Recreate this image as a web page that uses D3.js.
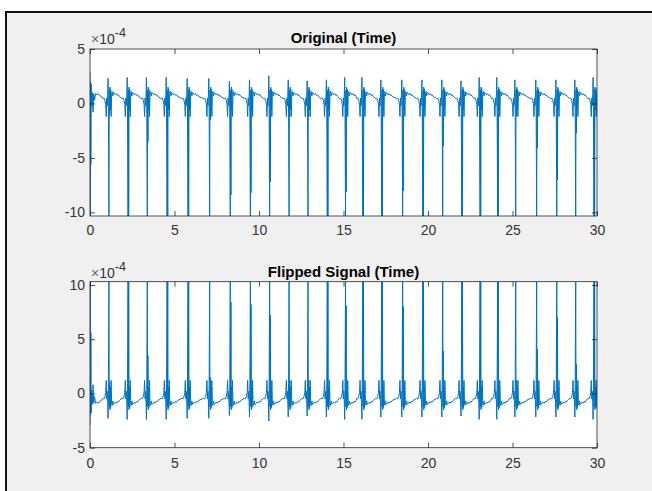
<!DOCTYPE html>
<html>
<head>
<meta charset="utf-8">
<script src="https://cdn.jsdelivr.net/npm/d3@7"></script>
<style>
  html, body { margin: 0; padding: 0; background: #ffffff; }
  svg { display: block; }
  text { font-family: "Liberation Sans", Arial, Helvetica, sans-serif; }
</style>
</head>
<body>
<script>
// ---------------- data (values in units of 1e-4) ----------------
const xTicks = [0, 5, 10, 15, 20, 25, 30];
const yTicksOriginal = [-10, -5, 0, 5];
const yTicksFlipped = [-5, 0, 5, 10];
const titles = ["Original (Time)", "Flipped Signal (Time)"];
const exponentLabel = "-4";

// time of each heartbeat spike (s)
const beatTimes = [1.12, 2.25, 3.39, 4.56, 5.80, 7.08, 8.30, 9.49, 10.63, 11.78, 12.90, 14.04, 15.12,
                   16.14, 17.26, 18.50, 19.69, 20.87, 22.00, 23.08, 24.12, 25.19, 26.43, 27.62, 28.74, 29.82];
// positive peak just before each spike (x1e-4)
const beatPeaks = [2.30, 2.39, 2.39, 2.39, 2.30, 2.30, 2.02, 2.17, 2.54, 2.17, 2.08, 2.17, 2.39,
                   2.39, 2.17, 2.17, 2.17, 2.17, 2.08, 2.39, 2.39, 2.17, 2.17, 2.17, 2.17, 2.39];
// main negative spike depth of each beat (x1e-4)
const beatSpikes = [-10.33, -10.33, -10.33, -10.33, -10.33, -10.33, -10.33, -10.33, -10.33, -10.33, -10.33, -10.33, -10.33,
                    -10.33, -10.33, -10.33, -10.33, -10.33, -10.33, -10.33, -10.33, -10.33, -10.33, -10.33, -10.33, -10.33];
// second (shorter) negative excursion of each beat (x1e-4)
const beatSecondDips = [-1.0, -10.33, -3.5, -10.33, -10.33, -1.5, -8.4, -8.2, -7.2, -1.2, -1.2, -10.33, -8.1,
                        -10.33, -10.33, -8.0, -10.33, -3.9, -10.33, -10.33, -10.33, -1.2, -4.1, -7.0, -2.7, -10.33];
// shape of one beat around its spike: offsets (s) and values (x1e-4); "P","S","D" are taken per beat
const beatShapeOffsets = [-0.36, -0.30, -0.24, -0.19, -0.16, -0.13, -0.10, -0.07, -0.05, -0.03, 0.00, 0.02,
                          0.04, 0.06, 0.08, 0.10, 0.13, 0.16, 0.19, 0.23, 0.27, 0.32, 0.38, 0.44, 0.50, 0.56, 0.62];
const beatShapeValues  = [0.45, 0.50, 0.30, -0.10, -1.20, 0.50, -0.20, 0.90, "P", -0.90, "S", 1.20,
                          "D", 1.50, -0.60, 1.30, -1.20, 0.90, 1.10, 0.70, 1.00, 0.95, 0.80, 0.90, 0.75, 0.80, 0.65];
// opening of the record (before the first full beat)
const startTimes  = [0.00, 0.01, 0.03, 0.05, 0.07, 0.10, 0.14, 0.18, 0.22, 0.27, 0.33, 0.40, 0.50, 0.60, 0.70];
const startValues = [2.90, -10.33, 2.00, -5.60, 1.80, -0.30, 1.00, -0.80, 0.90, 0.30, 0.90, 0.80, 0.90, 0.70, 0.60];
// closing sample
const endTime = 30.0;
const endValue = 1.40;

// ---------------- build the series from those values ----------------
const original = [];
startTimes.forEach((t, i) => original.push([t, startValues[i]]));
beatTimes.forEach((bt, b) => {
  beatShapeOffsets.forEach((o, k) => {
    let v = beatShapeValues[k];
    if (v === "P") v = beatPeaks[b];
    else if (v === "S") v = beatSpikes[b];
    else if (v === "D") v = beatSecondDips[b];
    const t = bt + o;
    if (t > 0.7 && t < endTime) original.push([t, v]);
  });
});
original.push([endTime, endValue]);
original.sort((a, b) => a[0] - b[0]);
const flipped = original.map(d => [d[0], -d[1]]);

// ---------------- drawing ----------------
const W = 652, H = 491;
const svg = d3.select("body").append("svg").attr("width", W).attr("height", H);

// figure frame
svg.append("rect").attr("x", 6).attr("y", 12).attr("width", 720).attr("height", 600)
  .attr("fill", "#f0f0f0").attr("stroke", "#111").attr("stroke-width", 2);

const left = 90, right = 597;
const x = d3.scaleLinear().domain([0, 30]).range([left, right]);
const fmt = d => String(d);

const panels = [
  { top: 49, bottom: 216, domain: [-10.33, 5], ticks: yTicksOriginal, data: original, title: titles[0], titleY: 42.5, expY: 43.5, pad: 9.5 },
  { top: 281.7, bottom: 447.7, domain: [-5, 10.3], ticks: yTicksFlipped, data: flipped, title: titles[1], titleY: 276.5, expY: 277.5, pad: 10 }
];

const axisColor = "#262626";
const labelColor = "#333333";

panels.forEach((p, i) => {
  const y = d3.scaleLinear().domain(p.domain).range([p.bottom, p.top]);
  const g = svg.append("g");

  g.append("rect").attr("x", left).attr("y", p.top).attr("width", right - left).attr("height", p.bottom - p.top)
    .attr("fill", "#ffffff");

  const clipId = "clip" + i;
  g.append("clipPath").attr("id", clipId).append("rect")
    .attr("x", left).attr("y", p.top).attr("width", right - left).attr("height", p.bottom - p.top);

  const line = d3.line().x(d => x(d[0])).y(d => y(d[1]));
  g.append("path").datum(p.data).attr("d", line).attr("clip-path", `url(#${clipId})`)
    .attr("fill", "none").attr("stroke", "#0072BD").attr("stroke-width", 1.0).attr("stroke-linejoin", "round");

  // axes
  const styleAxis = (sel, labels) => {
    sel.select(".domain").remove();
    sel.selectAll(".tick line").attr("stroke", axisColor).attr("stroke-width", 0.8);
    sel.selectAll(".tick text").attr("fill", labelColor).style("font-size", "14px")
      .style("font-family", '"Liberation Sans", Arial, sans-serif');
    if (!labels) sel.selectAll(".tick text").remove();
  };

  g.append("g").attr("transform", `translate(0,${p.bottom})`)
    .call(d3.axisBottom(x).tickValues(xTicks).tickFormat(fmt).tickSize(-5).tickPadding(p.pad))
    .call(s => styleAxis(s, true));
  g.append("g").attr("transform", `translate(0,${p.top})`)
    .call(d3.axisTop(x).tickValues(xTicks).tickSize(-5))
    .call(s => styleAxis(s, false));
  g.append("g").attr("transform", `translate(${left},0)`)
    .call(d3.axisLeft(y).tickValues(p.ticks).tickFormat(fmt).tickSize(-5).tickPadding(5))
    .call(s => styleAxis(s, true));
  g.append("g").attr("transform", `translate(${right},0)`)
    .call(d3.axisRight(y).tickValues(p.ticks).tickSize(-5))
    .call(s => styleAxis(s, false));

  g.append("rect").attr("x", left).attr("y", p.top).attr("width", right - left).attr("height", p.bottom - p.top)
    .attr("fill", "none").attr("stroke", axisColor).attr("stroke-width", 0.8);

  // title
  g.append("text").attr("x", (left + right) / 2).attr("y", p.titleY).attr("text-anchor", "middle")
    .style("font-size", "15px").style("font-weight", "bold").attr("fill", "#000").text(p.title);

  // exponent label
  const ex = g.append("text").attr("x", left + 1).attr("y", p.expY).attr("fill", labelColor).style("font-size", "14px");
  ex.append("tspan").attr("fill", "#666").text("\u00d7");
  ex.append("tspan").text("10");
  ex.append("tspan").attr("dy", -7).style("font-size", "12.5px").text(exponentLabel);
});
</script>
</body>
</html>
